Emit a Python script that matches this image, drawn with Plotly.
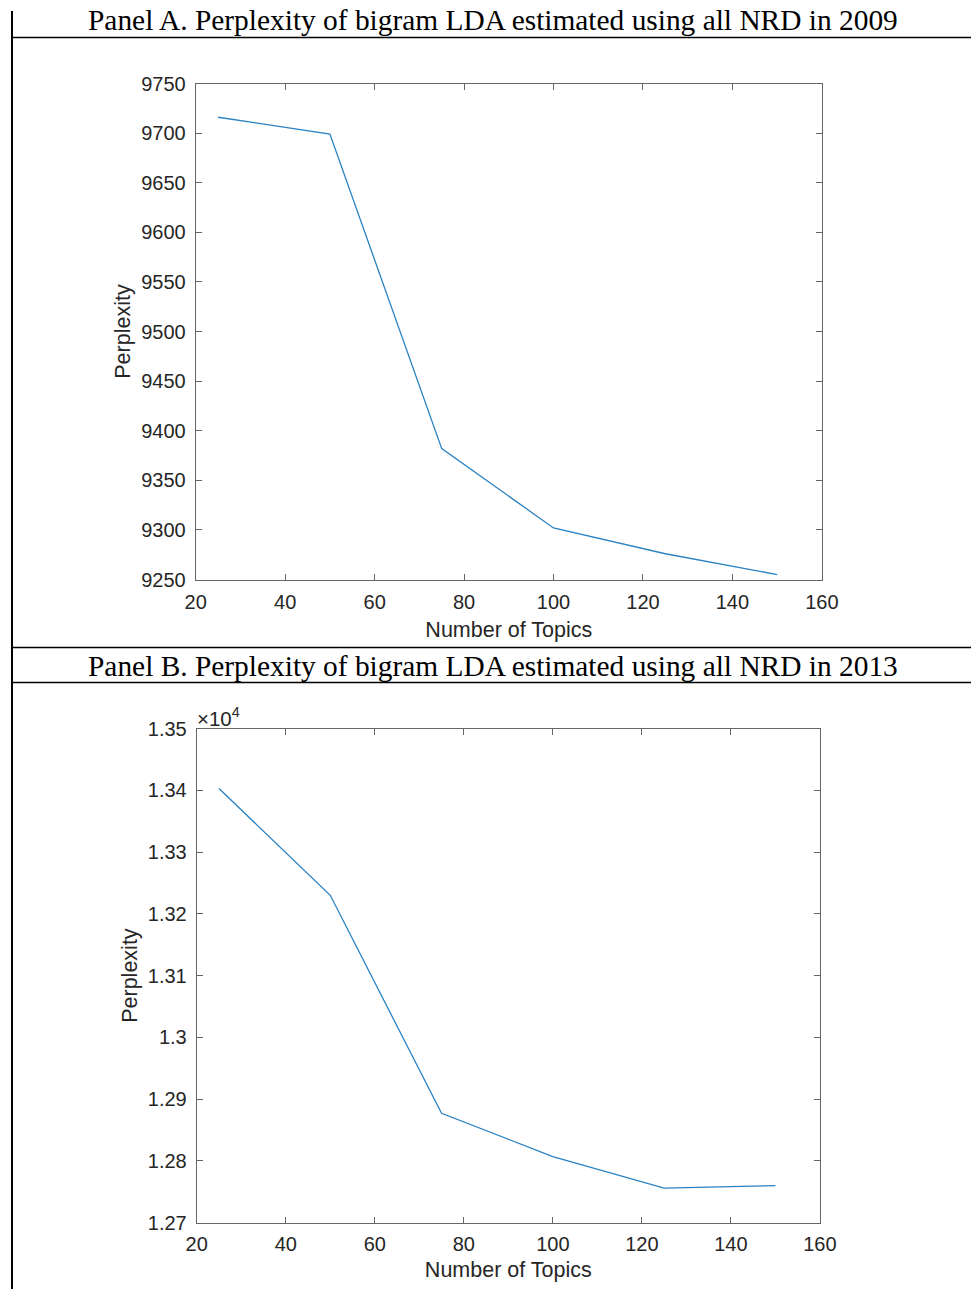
import plotly.graph_objects as go

topics = [25, 50, 75, 100, 125, 150]
perp_2009 = [9716, 9699, 9382, 9302, 9276, 9255]
perp_2013 = [13403, 13230, 12877, 12807, 12756, 12760]

x_ticks = [20, 40, 60, 80, 100, 120, 140, 160]
yA_ticks = [9250, 9300, 9350, 9400, 9450, 9500, 9550, 9600, 9650, 9700, 9750]
yB_ticks = [12700, 12800, 12900, 13000, 13100, 13200, 13300, 13400, 13500]
yB_labels = ["1.27", "1.28", "1.29", "1.3", "1.31", "1.32", "1.33", "1.34", "1.35"]

title_A = "Panel A. Perplexity of bigram LDA estimated using all NRD in 2009"
title_B = "Panel B. Perplexity of bigram LDA estimated using all NRD in 2013"

# observed page capture transform: shown = off + scale * drawn
OX, SX = 10.0, 0.973
OY, SY = 10.5, 0.983
W, H = 988, 1301

line_color = "#2a82c2"
axis_color = "#666666"
tick_font = dict(family="Liberation Sans, Arial", size=20, color="#262626")
title_font = dict(family="Liberation Sans, Arial", size=21.5, color="#262626")


def px_x(r):
    return ((r - OX) / SX) / W


def px_y(r):
    return 1 - ((r - OY) / SY) / H


fig = go.Figure()
fig.add_trace(go.Scatter(x=topics, y=perp_2009, mode="lines",
                         line=dict(color=line_color, width=1.3),
                         xaxis="x", yaxis="y", showlegend=False))
fig.add_trace(go.Scatter(x=topics, y=perp_2013, mode="lines",
                         line=dict(color=line_color, width=1.3),
                         xaxis="x2", yaxis="y2", showlegend=False))

common_x = dict(range=[20, 160], tickvals=x_ticks, ticks="inside", ticklen=6,
                tickcolor=axis_color, showline=True, linecolor=axis_color,
                linewidth=1, mirror="ticks", showgrid=False, zeroline=False,
                tickfont=tick_font, fixedrange=True)
common_y = dict(ticks="inside", ticklen=6, tickcolor=axis_color, showline=True,
                linecolor=axis_color, linewidth=1, mirror="ticks", showgrid=False,
                zeroline=False, tickfont=tick_font, fixedrange=True,
                ticklabelstandoff=5)

fig.update_layout(
    width=W, height=H,
    margin=dict(l=0, r=0, t=0, b=0),
    paper_bgcolor="white", plot_bgcolor="white",
    xaxis=dict(common_x, domain=[px_x(195), px_x(822)], anchor="y",
               ticklabelstandoff=4,
               title=dict(text="Number of Topics", font=title_font, standoff=10)),
    yaxis=dict(common_y, domain=[px_y(579), px_y(83)], anchor="x",
               range=[9250, 9750], tickvals=yA_ticks,
               title=dict(text="Perplexity", font=title_font, standoff=4)),
    xaxis2=dict(common_x, domain=[px_x(196), px_x(820)], anchor="y2",
                ticklabelstandoff=3,
                title=dict(text="Number of Topics", font=title_font, standoff=8)),
    yaxis2=dict(common_y, domain=[px_y(1222), px_y(728)], anchor="x2",
                range=[12700, 13500], tickvals=yB_ticks, ticktext=yB_labels,
                title=dict(text="Perplexity", font=title_font, standoff=4)),
)

serif = dict(family="Liberation Serif, Times New Roman", size=29.4, color="black")
fig.add_annotation(text=title_A, x=px_x(493), y=px_y(19), xref="paper", yref="paper",
                   showarrow=False, font=serif, xanchor="center", yanchor="middle")
fig.add_annotation(text=title_B, x=px_x(493), y=px_y(665), xref="paper", yref="paper",
                   showarrow=False, font=serif, xanchor="center", yanchor="middle")
fig.add_annotation(text="\u00d710<sup>4</sup>", x=px_x(194), y=px_y(731), xref="paper", yref="paper",
                   showarrow=False, font=dict(family="Liberation Sans, Arial", size=20.5, color="#262626"),
                   xanchor="left", yanchor="bottom")

# table rules
shapes = []
for yy in [37, 647, 682]:
    shapes.append(dict(type="line", xref="paper", yref="paper", x0=0, x1=1,
                       y0=px_y(yy), y1=px_y(yy), line=dict(color="black", width=1.6)))
shapes.append(dict(type="line", xref="paper", yref="paper", x0=px_x(11), x1=px_x(11),
                   y0=0, y1=1, line=dict(color="black", width=2)))
fig.update_layout(shapes=shapes)

fig.write_html("out.html", config={"displayModeBar": False},
               post_script="document.body.style.margin='0';")
